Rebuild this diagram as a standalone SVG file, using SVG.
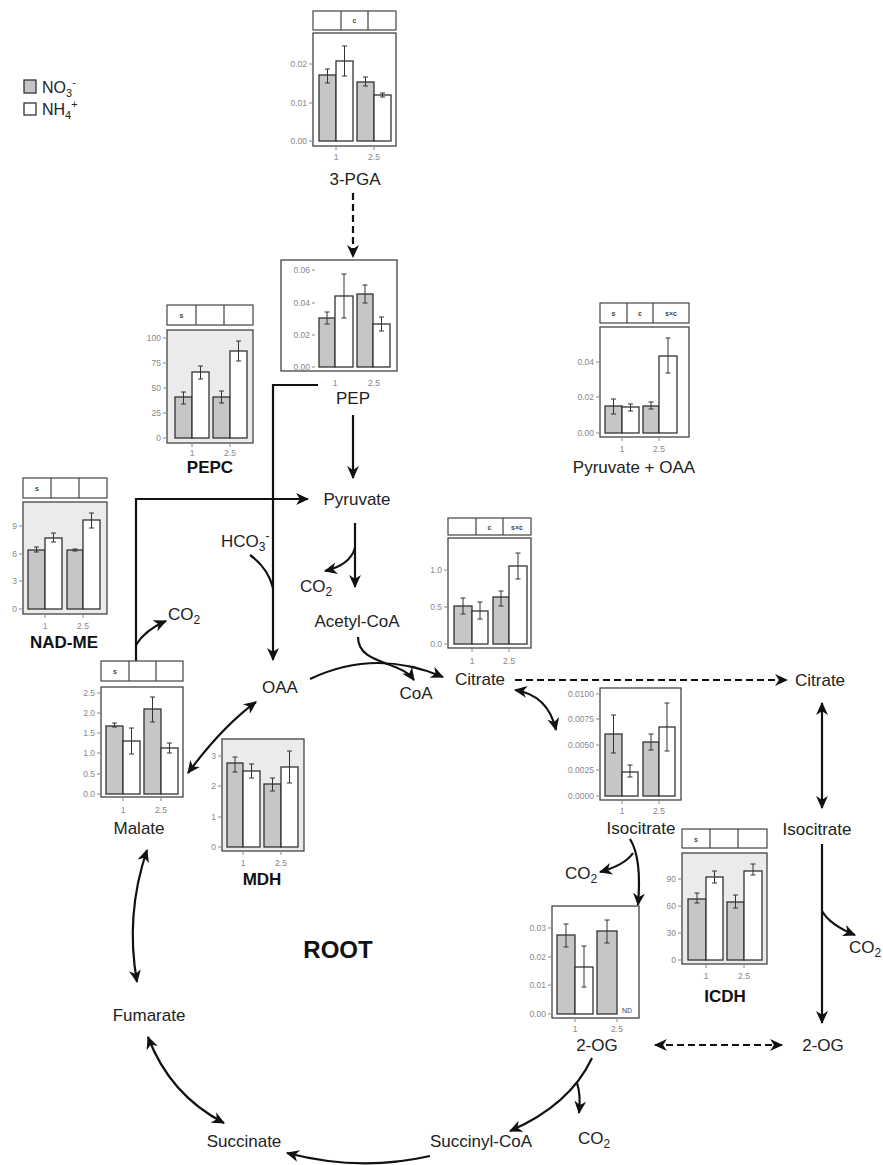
<svg xmlns="http://www.w3.org/2000/svg" width="883" height="1165" viewBox="0 0 883 1165">
<defs>
<style>
text{font-family:"Liberation Sans",Arial,sans-serif}
.bg{fill:#fff}
.pw{fill:#fff;stroke:#444;stroke-width:1.3}
.pg{fill:#ebebeb;stroke:#444;stroke-width:1.3}
.st{fill:#fff;stroke:#444;stroke-width:1.2}
.dv{stroke:#444;stroke-width:1.2}
.b1{fill:#c6c6c6;stroke:#333;stroke-width:1.3}
.b2{fill:#fff;stroke:#333;stroke-width:1.3}
.er{fill:none;stroke:#333;stroke-width:1}
.tk{fill:none;stroke:#888;stroke-width:1}
.ax{font-size:8.5px;fill:#888;text-anchor:end}
.xl{font-size:8.5px;fill:#888;text-anchor:middle}
.sl{font-size:7px;font-weight:bold;fill:#444;text-anchor:middle}
.lb{font-size:17px;fill:#222;text-anchor:middle}
.ls{font-size:17px;fill:#222}
.bl{font-size:17px;font-weight:bold;fill:#111;text-anchor:middle}
.c{fill:none;stroke:#111;stroke-width:2.2}
.d{stroke-dasharray:7 4}
.me{marker-end:url(#ah)}
.mb{marker-start:url(#ah);marker-end:url(#ah)}
</style>
<marker id="ah" viewBox="0 0 12 12" refX="11" refY="6" markerWidth="13" markerHeight="13" markerUnits="userSpaceOnUse" orient="auto-start-reverse">
<path d="M0,0.5 L12,6 L0,11.5 L3.5,6 z" fill="#111"/>
</marker>
</defs>
<rect class="bg" x="0" y="0" width="883" height="1165"/>

<g id="legend">
<rect x="24" y="80" width="12" height="13" class="b1"/>
<text x="42" y="93" font-size="16" fill="#222">NO<tspan dy="4" font-size="11">3</tspan><tspan dy="-11" font-size="11">-</tspan></text>
<rect x="24" y="103" width="12" height="12" class="b2"/>
<text x="42" y="115" font-size="16" fill="#222">NH<tspan dy="4" font-size="11">4</tspan><tspan dy="-11" font-size="11">+</tspan></text>
</g>

<g id="connectors">
<path class="c d me" d="M353,193 V257"/>
<path class="c me" d="M353,415 V478"/>
<path class="c me" d="M318,385 H273 V660"/>
<path class="c" d="M250,555 Q268,568 273,588"/>
<path class="c me" d="M136,661 V499 H308"/>
<path class="c me" d="M136,645 Q145,630 166,621"/>
<path class="c me" d="M355,523 V587"/>
<path class="c me" d="M355,548 Q350,565 325,571"/>
<path class="c me" d="M358,637 C358,665 400,660 414,680"/>
<path class="c me" d="M310,679 Q375,648 443,677"/>
<path class="c mb" d="M256,702 Q222,727 188,773"/>
<path class="c d me" d="M515,680 H787"/>
<path class="c mb" d="M515,690 Q548,695 556,730"/>
<path class="c mb" d="M822,703 V808"/>
<path class="c me" d="M822,844 V1023"/>
<path class="c me" d="M822,911 Q830,925 855,935"/>
<path class="c d mb" d="M655,1045 H782"/>
<path class="c me" d="M630,839 Q642,858 638,905"/>
<path class="c me" d="M633,853 Q625,865 600,872"/>
<path class="c me" d="M592,1058 Q570,1105 510,1131"/>
<path class="c me" d="M577,1083 Q581,1095 579,1113"/>
<path class="c me" d="M430,1156 Q360,1172 287,1153"/>
<path class="c mb" d="M148,1037 Q170,1095 224,1123"/>
<path class="c mb" d="M147,850 Q125,915 137,982"/>
</g>

<g id="node-3pga">
<rect class="st" x="313" y="11" width="83" height="19"/>
<path class="dv" d="M341,11V30M368,11V30"/>
<text class="sl" x="354.5" y="23">c</text>
<rect class="pw" x="313" y="33" width="83" height="113"/>
<rect class="b1" x="319" y="75" width="17" height="66"/>
<rect class="b2" x="336" y="61" width="17" height="80"/>
<rect class="b1" x="357" y="82" width="17" height="59"/>
<rect class="b2" x="374" y="95" width="17" height="46"/>
<path class="er" d="M325,69H330M327.5,69V83M325,83H330M342,46H347M344.5,46V76M342,76H347M363,77H368M365.5,77V86M363,86H368M380,93H385M382.5,93V97M380,97H385"/>
<path class="tk" d="M309,64H313M309,103H313M309,141H313M336,146V150M374,146V150"/>
<text class="ax" x="307" y="67">0.02</text>
<text class="ax" x="307" y="106">0.01</text>
<text class="ax" x="307" y="144">0.00</text>
<text class="xl" x="336" y="160">1</text>
<text class="xl" x="374" y="160">2.5</text>
<text class="lb" x="355" y="185">3-PGA</text>
</g>

<g id="node-pep">
<rect class="pw" x="281" y="260" width="116" height="111"/>
<rect class="b1" x="319" y="318" width="16" height="49"/>
<rect class="b2" x="335" y="296" width="18" height="71"/>
<rect class="b1" x="357" y="294" width="16" height="73"/>
<rect class="b2" x="373" y="324" width="17" height="43"/>
<path class="er" d="M324.5,312H329.5M327,312V324M324.5,324H329.5M341.5,274H346.5M344,274V318M341.5,318H346.5M362.5,285H367.5M365,285V303M362.5,303H367.5M379,317H384M381.5,317V331M379,331H384"/>
<path class="tk" d="M312,270H315M312,303H315M312,335H315M312,367H315"/>
<text class="ax" x="310" y="273">0.06</text>
<text class="ax" x="310" y="306">0.04</text>
<text class="ax" x="310" y="338">0.02</text>
<text class="ax" x="310" y="370">0.00</text>
<text class="xl" x="335" y="386">1</text>
<text class="xl" x="374" y="386">2.5</text>
<text class="lb" x="353" y="404">PEP</text>
</g>

<g id="node-pepc">
<rect class="st" x="167" y="305" width="86" height="20"/>
<path class="dv" d="M196,305V325M224,305V325"/>
<text class="sl" x="181.5" y="318">s</text>
<rect class="pg" x="167" y="330" width="86" height="113"/>
<rect class="b1" x="175" y="397" width="17" height="41"/>
<rect class="b2" x="192" y="372" width="17" height="66"/>
<rect class="b1" x="213" y="397" width="17" height="41"/>
<rect class="b2" x="230" y="351" width="17" height="87"/>
<path class="er" d="M181,392H186M183.5,392V404M181,404H186M198,366H203M200.5,366V379M198,379H203M219,391H224M221.5,391V403M219,403H224M236,341H241M238.5,341V361M236,361H241"/>
<path class="tk" d="M163,338H167M163,363H167M163,388H167M163,413H167M163,438H167M192,443V447M230,443V447"/>
<text class="ax" x="161" y="341">100</text>
<text class="ax" x="161" y="366">75</text>
<text class="ax" x="161" y="391">50</text>
<text class="ax" x="161" y="416">25</text>
<text class="ax" x="161" y="441">0</text>
<text class="xl" x="192" y="456">1</text>
<text class="xl" x="230" y="456">2.5</text>
<text class="bl" x="210" y="473">PEPC</text>
</g>

<g id="node-pyr-oaa">
<rect class="st" x="600" y="303" width="89" height="20"/>
<path class="dv" d="M627,303V323M653,303V323"/>
<text class="sl" x="613.5" y="316">s</text>
<text class="sl" x="640" y="316">c</text>
<text class="sl" x="671" y="316">s×c</text>
<rect class="pw" x="600" y="327" width="89" height="110"/>
<rect class="b1" x="605" y="406" width="17" height="27"/>
<rect class="b2" x="622" y="407" width="17" height="26"/>
<rect class="b1" x="643" y="406" width="16" height="27"/>
<rect class="b2" x="659" y="356" width="18" height="77"/>
<path class="er" d="M611,399H616M613.5,399V414M611,414H616M628,404H633M630.5,404V411M628,411H633M648.5,402H653.5M651,402V409M648.5,409H653.5M665.5,338H670.5M668,338V373M665.5,373H670.5"/>
<path class="tk" d="M596,362H600M596,397H600M596,433H600M622,437V441M659,437V441"/>
<text class="ax" x="594" y="365">0.04</text>
<text class="ax" x="594" y="400">0.02</text>
<text class="ax" x="594" y="436">0.00</text>
<text class="xl" x="622" y="452">1</text>
<text class="xl" x="659" y="452">2.5</text>
<text class="lb" x="634" y="473">Pyruvate + OAA</text>
</g>

<g id="node-nadme">
<rect class="st" x="23" y="478" width="84" height="20"/>
<path class="dv" d="M51,478V498M79,478V498"/>
<text class="sl" x="37" y="491">s</text>
<rect class="pg" x="23" y="502" width="84" height="112"/>
<rect class="b1" x="28" y="550" width="17" height="59"/>
<rect class="b2" x="45" y="538" width="17" height="71"/>
<rect class="b1" x="67" y="550" width="16" height="59"/>
<rect class="b2" x="83" y="520" width="17" height="89"/>
<path class="er" d="M34,547H39M36.5,547V552M34,552H39M51,533H56M53.5,533V542M51,542H56M72.5,549H77.5M75,549V551M72.5,551H77.5M89,513H94M91.5,513V528M89,528H94"/>
<path class="tk" d="M19,526H23M19,554H23M19,581H23M19,609H23M45,614V618M83,614V618"/>
<text class="ax" x="17" y="529">9</text>
<text class="ax" x="17" y="557">6</text>
<text class="ax" x="17" y="584">3</text>
<text class="ax" x="17" y="612">0</text>
<text class="xl" x="45" y="629">1</text>
<text class="xl" x="83" y="629">2.5</text>
<text class="bl" x="64" y="648">NAD-ME</text>
</g>

<g id="node-citrate">
<rect class="st" x="448" y="518" width="83" height="17"/>
<path class="dv" d="M476,518V535M503,518V535"/>
<text class="sl" x="489.5" y="529.5">c</text>
<text class="sl" x="517" y="529.5">s×c</text>
<rect class="pw" x="448" y="538" width="83" height="110"/>
<rect class="b1" x="454" y="606" width="18" height="38"/>
<rect class="b2" x="472" y="611" width="16" height="33"/>
<rect class="b1" x="493" y="597" width="16" height="47"/>
<rect class="b2" x="509" y="566" width="18" height="78"/>
<path class="er" d="M460.5,598H465.5M463,598V614M460.5,614H465.5M477.5,602H482.5M480,602V619M477.5,619H482.5M498.5,591H503.5M501,591V606M498.5,606H503.5M515.5,553H520.5M518,553V579M515.5,579H520.5"/>
<path class="tk" d="M444,570H448M444,607H448M444,644H448M472,648V652M509,648V652"/>
<text class="ax" x="442" y="573">1.0</text>
<text class="ax" x="442" y="610">0.5</text>
<text class="ax" x="442" y="647">0.0</text>
<text class="xl" x="472" y="664">1</text>
<text class="xl" x="509" y="664">2.5</text>
<text class="ls" x="455" y="685">Citrate</text>
</g>

<g id="node-malate">
<rect class="st" x="101" y="661" width="82" height="20"/>
<path class="dv" d="M129,661V681M156,661V681"/>
<text class="sl" x="115" y="674">s</text>
<rect class="pw" x="101" y="687" width="82" height="110"/>
<rect class="b1" x="106" y="726" width="17" height="68"/>
<rect class="b2" x="123" y="741" width="17" height="53"/>
<rect class="b1" x="144" y="709" width="17" height="85"/>
<rect class="b2" x="161" y="748" width="17" height="46"/>
<path class="er" d="M112,723H117M114.5,723V727M112,727H117M129,728H134M131.5,728V754M129,754H134M150,697H155M152.5,697V722M150,722H155M167,743H172M169.5,743V753M167,753H172"/>
<path class="tk" d="M97,693H101M97,713H101M97,733H101M97,753H101M97,774H101M97,794H101M123,797V801M161,797V801"/>
<text class="ax" x="95" y="696">2.5</text>
<text class="ax" x="95" y="716">2.0</text>
<text class="ax" x="95" y="736">1.5</text>
<text class="ax" x="95" y="756">1.0</text>
<text class="ax" x="95" y="777">0.5</text>
<text class="ax" x="95" y="797">0.0</text>
<text class="xl" x="123" y="813">1</text>
<text class="xl" x="161" y="813">2.5</text>
<text class="lb" x="139" y="834">Malate</text>
</g>

<g id="node-mdh">
<rect class="pg" x="222" y="739" width="82" height="112"/>
<rect class="b1" x="227" y="763" width="16" height="84"/>
<rect class="b2" x="243" y="771" width="17" height="76"/>
<rect class="b1" x="264" y="784" width="17" height="63"/>
<rect class="b2" x="281" y="767" width="17" height="80"/>
<path class="er" d="M232.5,757H237.5M235,757V772M232.5,772H237.5M249,764H254M251.5,764V778M249,778H254M270,778H275M272.5,778V791M270,791H275M287,751H292M289.5,751V783M287,783H292"/>
<path class="tk" d="M218,756H222M218,786H222M218,817H222M218,847H222M243,851V855M281,851V855"/>
<text class="ax" x="216" y="759">3</text>
<text class="ax" x="216" y="789">2</text>
<text class="ax" x="216" y="820">1</text>
<text class="ax" x="216" y="850">0</text>
<text class="xl" x="243" y="866">1</text>
<text class="xl" x="281" y="866">2.5</text>
<text class="bl" x="262" y="885">MDH</text>
</g>

<g id="node-isocitrate">
<rect class="pw" x="600" y="688" width="81" height="112"/>
<rect class="b1" x="605" y="734" width="17" height="62"/>
<rect class="b2" x="622" y="772" width="16" height="24"/>
<rect class="b1" x="643" y="742" width="16" height="54"/>
<rect class="b2" x="659" y="727" width="16" height="69"/>
<path class="er" d="M611,715H616M613.5,715V753M611,753H616M627.5,765H632.5M630,765V777M627.5,777H632.5M648.5,734H653.5M651,734V750M648.5,750H653.5M664.5,703H669.5M667,703V751M664.5,751H669.5"/>
<path class="tk" d="M596,694H600M596,719H600M596,745H600M596,770H600M596,796H600M622,800V804M659,800V804"/>
<text class="ax" x="594" y="697">0.0100</text>
<text class="ax" x="594" y="722">0.0075</text>
<text class="ax" x="594" y="748">0.0050</text>
<text class="ax" x="594" y="773">0.0025</text>
<text class="ax" x="594" y="799">0.0000</text>
<text class="xl" x="622" y="814">1</text>
<text class="xl" x="659" y="814">2.5</text>
<text class="lb" x="641" y="834">Isocitrate</text>
</g>

<g id="node-icdh">
<rect class="st" x="682" y="829" width="85" height="19"/>
<path class="dv" d="M710,829V848M738,829V848"/>
<text class="sl" x="696" y="841.5">s</text>
<rect class="pg" x="682" y="853" width="85" height="111"/>
<rect class="b1" x="688" y="899" width="18" height="61"/>
<rect class="b2" x="706" y="877" width="17" height="83"/>
<rect class="b1" x="727" y="902" width="17" height="58"/>
<rect class="b2" x="744" y="871" width="18" height="89"/>
<path class="er" d="M694.5,893H699.5M697,893V903M694.5,903H699.5M712,871H717M714.5,871V883M712,883H717M733,895H738M735.5,895V908M733,908H738M750.5,864H755.5M753,864V875M750.5,875H755.5"/>
<path class="tk" d="M678,879H682M678,906H682M678,933H682M678,960H682M706,964V968M744,964V968"/>
<text class="ax" x="676" y="882">90</text>
<text class="ax" x="676" y="909">60</text>
<text class="ax" x="676" y="936">30</text>
<text class="ax" x="676" y="963">0</text>
<text class="xl" x="706" y="979">1</text>
<text class="xl" x="744" y="979">2.5</text>
<text class="bl" x="725" y="1002">ICDH</text>
</g>

<g id="node-2og">
<rect class="pw" x="552" y="906" width="87" height="112"/>
<rect class="b1" x="557" y="935" width="18" height="79"/>
<rect class="b2" x="575" y="967" width="18" height="47"/>
<rect class="b1" x="597" y="931" width="20" height="83"/>
<text x="627" y="1013" font-size="7" fill="#444" text-anchor="middle">ND</text>
<path class="er" d="M563.5,924H568.5M566,924V947M563.5,947H568.5M581.5,946H586.5M584,946V987M581.5,987H586.5M604.5,920H609.5M607,920V943M604.5,943H609.5"/>
<path class="tk" d="M548,928H552M548,957H552M548,985H552M548,1014H552M575,1018V1022M617,1018V1022"/>
<text class="ax" x="546" y="931">0.03</text>
<text class="ax" x="546" y="960">0.02</text>
<text class="ax" x="546" y="988">0.01</text>
<text class="ax" x="546" y="1017">0.00</text>
<text class="xl" x="575" y="1032">1</text>
<text class="xl" x="617" y="1032">2.5</text>
<text class="lb" x="597" y="1051">2-OG</text>
</g>

<g id="node-pyruvate"><text class="lb" x="357" y="505">Pyruvate</text></g>
<g id="node-acetylcoa"><text class="lb" x="357" y="627">Acetyl-CoA</text></g>
<g id="node-oaa"><text class="lb" x="280" y="693">OAA</text></g>
<g id="node-coa"><text class="lb" x="416" y="699">CoA</text></g>
<g id="node-hco3"><text class="ls" x="221" y="547">HCO<tspan dy="4" font-size="12">3</tspan><tspan dy="-11" font-size="12">-</tspan></text></g>
<g id="node-co2-a"><text class="ls" x="168" y="620">CO<tspan dy="4" font-size="12">2</tspan></text></g>
<g id="node-co2-b"><text class="ls" x="300" y="592">CO<tspan dy="4" font-size="12">2</tspan></text></g>
<g id="node-co2-c"><text class="ls" x="565" y="879">CO<tspan dy="4" font-size="12">2</tspan></text></g>
<g id="node-co2-d"><text class="ls" x="849" y="953">CO<tspan dy="4" font-size="12">2</tspan></text></g>
<g id="node-co2-e"><text class="ls" x="578" y="1144">CO<tspan dy="4" font-size="12">2</tspan></text></g>
<g id="node-citrate-r"><text class="ls" x="795" y="686">Citrate</text></g>
<g id="node-isocitrate-r"><text class="lb" x="817" y="835">Isocitrate</text></g>
<g id="node-2og-r"><text class="lb" x="823" y="1051">2-OG</text></g>
<g id="node-fumarate"><text class="lb" x="149" y="1021">Fumarate</text></g>
<g id="node-succinate"><text class="lb" x="244" y="1147">Succinate</text></g>
<g id="node-succinylcoa"><text class="lb" x="481" y="1147">Succinyl-CoA</text></g>
<g id="node-root"><text x="338" y="958" font-size="24" font-weight="bold" fill="#111" text-anchor="middle">ROOT</text></g>
</svg>
